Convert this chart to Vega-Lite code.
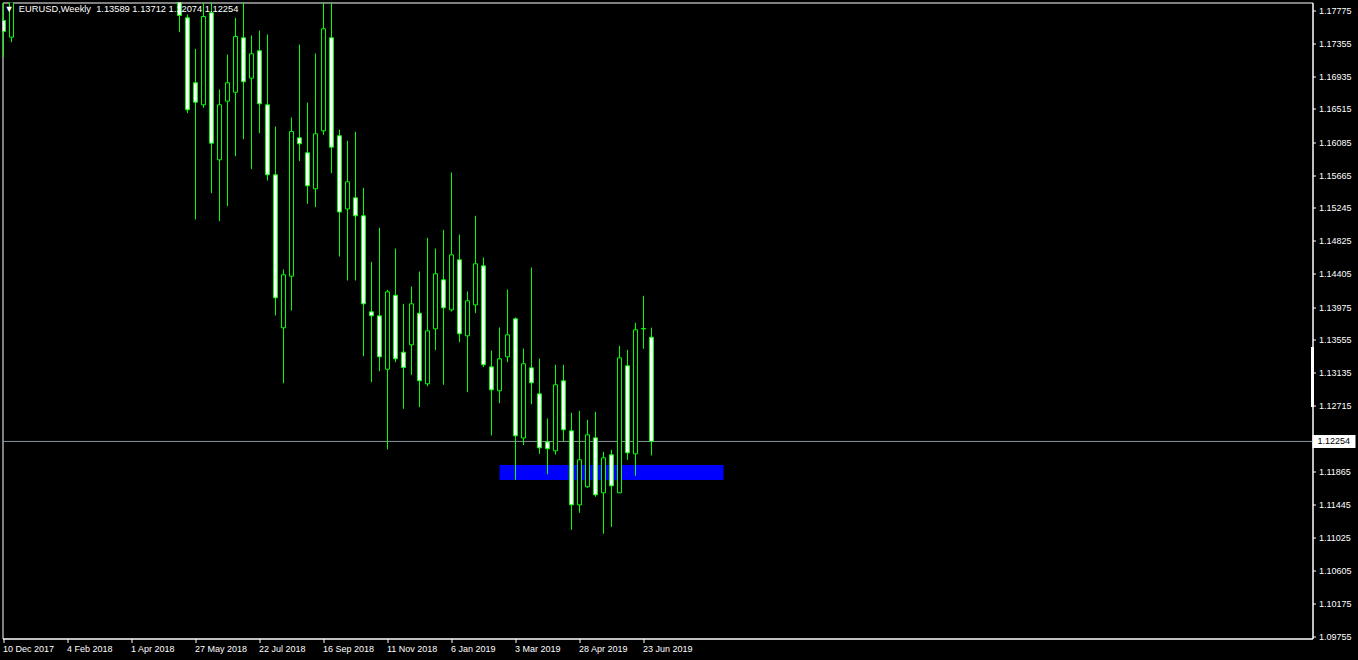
{
  "$schema": "https://vega.github.io/schema/vega-lite/v6.json",
  "width": 1310,
  "height": 636,
  "autosize": "none",
  "padding": {"left": 2.5, "top": 2.5, "right": 45.5, "bottom": 21.5},
  "background": "black",
  "title": {
    "text": "▼\u00a0\u00a0EURUSD,Weekly\u00a0\u00a01.13589 1.13712 1.12074 1.12254",
    "anchor": "start",
    "frame": "group",
    "orient": "top",
    "offset": -12,
    "baseline": "top",
    "dx": 2,
    "color": "white",
    "font": "Liberation Sans",
    "fontSize": 9.3,
    "fontWeight": "normal"
  },
  "datasets": {
    "candles": [
      {"date": "2017-12-10", "open": 1.17647, "high": 1.18630, "low": 1.17177, "close": 1.17506},
      {"date": "2017-12-17", "open": 1.17433, "high": 1.18800, "low": 1.17369, "close": 1.18600},
      {"date": "2018-05-13", "open": 1.19400, "high": 1.19970, "low": 1.17497, "close": 1.17711},
      {"date": "2018-05-20", "open": 1.17681, "high": 1.17724, "low": 1.16459, "close": 1.16503},
      {"date": "2018-05-27", "open": 1.16849, "high": 1.17284, "low": 1.15097, "close": 1.16600},
      {"date": "2018-06-03", "open": 1.16567, "high": 1.18400, "low": 1.16528, "close": 1.17698},
      {"date": "2018-06-10", "open": 1.17746, "high": 1.18520, "low": 1.15434, "close": 1.16075},
      {"date": "2018-06-17", "open": 1.15862, "high": 1.16763, "low": 1.15076, "close": 1.16567},
      {"date": "2018-06-24", "open": 1.16613, "high": 1.17211, "low": 1.15268, "close": 1.16849},
      {"date": "2018-07-01", "open": 1.16728, "high": 1.17681, "low": 1.15908, "close": 1.17442},
      {"date": "2018-07-08", "open": 1.17425, "high": 1.17910, "low": 1.16126, "close": 1.16862},
      {"date": "2018-07-15", "open": 1.16908, "high": 1.17455, "low": 1.15742, "close": 1.17220},
      {"date": "2018-07-22", "open": 1.17259, "high": 1.17519, "low": 1.16203, "close": 1.16580},
      {"date": "2018-07-29", "open": 1.16567, "high": 1.17468, "low": 1.15597, "close": 1.15670},
      {"date": "2018-08-05", "open": 1.15670, "high": 1.16289, "low": 1.13867, "close": 1.14094},
      {"date": "2018-08-12", "open": 1.13710, "high": 1.14457, "low": 1.12999, "close": 1.14389},
      {"date": "2018-08-19", "open": 1.14371, "high": 1.16404, "low": 1.13931, "close": 1.16225},
      {"date": "2018-08-26", "open": 1.16144, "high": 1.17339, "low": 1.15844, "close": 1.16067},
      {"date": "2018-09-02", "open": 1.15952, "high": 1.16596, "low": 1.15298, "close": 1.15529},
      {"date": "2018-09-09", "open": 1.15491, "high": 1.17224, "low": 1.15255, "close": 1.16195},
      {"date": "2018-09-16", "open": 1.16234, "high": 1.17900, "low": 1.16183, "close": 1.17541},
      {"date": "2018-09-23", "open": 1.17425, "high": 1.18150, "low": 1.15691, "close": 1.16024},
      {"date": "2018-09-30", "open": 1.16170, "high": 1.16247, "low": 1.14623, "close": 1.15193},
      {"date": "2018-10-07", "open": 1.15232, "high": 1.16106, "low": 1.14316, "close": 1.15580},
      {"date": "2018-10-14", "open": 1.15375, "high": 1.16221, "low": 1.14316, "close": 1.15145},
      {"date": "2018-10-21", "open": 1.15145, "high": 1.15503, "low": 1.13346, "close": 1.14017},
      {"date": "2018-10-28", "open": 1.13915, "high": 1.14555, "low": 1.13013, "close": 1.13864},
      {"date": "2018-11-04", "open": 1.13864, "high": 1.14991, "low": 1.13154, "close": 1.13338},
      {"date": "2018-11-11", "open": 1.13179, "high": 1.14197, "low": 1.12151, "close": 1.14171},
      {"date": "2018-11-18", "open": 1.14127, "high": 1.14726, "low": 1.13269, "close": 1.13313},
      {"date": "2018-11-25", "open": 1.13397, "high": 1.14017, "low": 1.12672, "close": 1.13201},
      {"date": "2018-12-02", "open": 1.13492, "high": 1.14239, "low": 1.13108, "close": 1.14017},
      {"date": "2018-12-09", "open": 1.13897, "high": 1.14431, "low": 1.12693, "close": 1.13031},
      {"date": "2018-12-16", "open": 1.12992, "high": 1.14863, "low": 1.12962, "close": 1.13671},
      {"date": "2018-12-23", "open": 1.13697, "high": 1.14726, "low": 1.13423, "close": 1.14402},
      {"date": "2018-12-30", "open": 1.14325, "high": 1.14965, "low": 1.12980, "close": 1.13966},
      {"date": "2019-01-06", "open": 1.13940, "high": 1.15700, "low": 1.13919, "close": 1.14645},
      {"date": "2019-01-13", "open": 1.14581, "high": 1.14905, "low": 1.13525, "close": 1.13633},
      {"date": "2019-01-20", "open": 1.13607, "high": 1.14175, "low": 1.12885, "close": 1.14056},
      {"date": "2019-01-27", "open": 1.14004, "high": 1.15145, "low": 1.13897, "close": 1.14530},
      {"date": "2019-02-03", "open": 1.14504, "high": 1.14610, "low": 1.13205, "close": 1.13236},
      {"date": "2019-02-10", "open": 1.13210, "high": 1.13419, "low": 1.12330, "close": 1.12915},
      {"date": "2019-02-17", "open": 1.12903, "high": 1.13714, "low": 1.12744, "close": 1.13313},
      {"date": "2019-02-24", "open": 1.13338, "high": 1.14201, "low": 1.13269, "close": 1.13620},
      {"date": "2019-03-03", "open": 1.13825, "high": 1.13842, "low": 1.11762, "close": 1.12326},
      {"date": "2019-03-10", "open": 1.12298, "high": 1.13445, "low": 1.12208, "close": 1.13249},
      {"date": "2019-03-17", "open": 1.13197, "high": 1.14482, "low": 1.12731, "close": 1.13005},
      {"date": "2019-03-24", "open": 1.12864, "high": 1.13316, "low": 1.12095, "close": 1.12172},
      {"date": "2019-03-31", "open": 1.12249, "high": 1.12548, "low": 1.11834, "close": 1.12160},
      {"date": "2019-04-07", "open": 1.12134, "high": 1.13236, "low": 1.12086, "close": 1.12980},
      {"date": "2019-04-14", "open": 1.13031, "high": 1.13236, "low": 1.12249, "close": 1.12403},
      {"date": "2019-04-21", "open": 1.12390, "high": 1.12621, "low": 1.11122, "close": 1.11442},
      {"date": "2019-04-28", "open": 1.11442, "high": 1.12646, "low": 1.11340, "close": 1.12019},
      {"date": "2019-05-05", "open": 1.11673, "high": 1.12531, "low": 1.11660, "close": 1.12339},
      {"date": "2019-05-12", "open": 1.12300, "high": 1.12634, "low": 1.11545, "close": 1.11570},
      {"date": "2019-05-19", "open": 1.11596, "high": 1.12121, "low": 1.11071, "close": 1.12044},
      {"date": "2019-05-26", "open": 1.12083, "high": 1.12147, "low": 1.11160, "close": 1.11685},
      {"date": "2019-06-02", "open": 1.11596, "high": 1.13479, "low": 1.11594, "close": 1.13325},
      {"date": "2019-06-09", "open": 1.13223, "high": 1.13428, "low": 1.12019, "close": 1.12108},
      {"date": "2019-06-16", "open": 1.12095, "high": 1.13774, "low": 1.11814, "close": 1.13684},
      {"date": "2019-06-23", "open": 1.13700, "high": 1.14120, "low": 1.13441, "close": 1.13696},
      {"date": "2019-06-30", "open": 1.13589, "high": 1.13712, "low": 1.12074, "close": 1.12254}
    ],
    "zone": [
      {"start": "2019-02-17", "end": "2019-09-01", "top": 1.11952, "bottom": 1.11760}
    ],
    "bid": [
      {"price": 1.12254}
    ],
    "marker": [
      {"top": 1.13464, "bottom": 1.12695}
    ]
  },
  "layer": [
    {
      "data": {"name": "zone"},
      "mark": {"type": "rect", "color": "#0000FF", "clip": true},
      "encoding": {
        "x": {"field": "start", "type": "temporal", "title": null,
              "scale": {"type": "utc", "domain": [1512788400000, 1611824400000], "padding": 0}},
        "x2": {"field": "end"},
        "y": {"field": "top", "type": "quantitative", "title": null,
              "scale": {"domain": [1.097294, 1.178775], "nice": false, "zero": false, "padding": 0}},
        "y2": {"field": "bottom"}
      }
    },
    {
      "data": {"name": "bid"},
      "mark": {"type": "rule", "color": "#8a939c", "strokeWidth": 1},
      "encoding": {
        "y": {"field": "price", "type": "quantitative", "title": null,
              "scale": {"domain": [1.097294, 1.178775], "nice": false, "zero": false, "padding": 0}}
      }
    },
    {
      "data": {"name": "candles"},
      "mark": {"type": "rule", "color": "#00FF00", "strokeWidth": 1, "clip": true},
      "encoding": {
        "x": {"field": "date", "type": "temporal", "title": null,
              "scale": {"type": "utc", "domain": [1512788400000, 1611824400000], "padding": 0}},
        "y": {"field": "high", "type": "quantitative", "title": null,
              "scale": {"domain": [1.097294, 1.178775], "nice": false, "zero": false, "padding": 0}},
        "y2": {"field": "low"}
      }
    },
    {
      "data": {"name": "candles"},
      "mark": {"type": "bar", "size": 4, "stroke": "#00FF00", "strokeWidth": 1, "clip": true},
      "encoding": {
        "x": {"field": "date", "type": "temporal", "title": null,
              "scale": {"type": "utc", "domain": [1512788400000, 1611824400000], "padding": 0},
              "axis": {
                "orient": "bottom",
                "values": [1512864000000, 1517702400000, 1522540800000, 1527379200000, 1532217600000, 1537056000000, 1541894400000, 1546732800000, 1551571200000, 1556409600000, 1561248000000],
                "tickCount": 40,
                "format": "%-d %b %Y",
                "labelAlign": "left",
                "labelBaseline": "top",
                "labelOffset": -1,
                "labelPadding": 2,
                "tickSize": 4,
                "labelOverlap": false,
                "labelFlush": false,
                "labelBound": false,
                "labelSeparation": 0
              }},
        "y": {"field": "open", "type": "quantitative", "title": null,
              "scale": {"domain": [1.097294, 1.178775], "nice": false, "zero": false, "padding": 0},
              "axis": {
                "orient": "right",
                "values": [1.17775, 1.17355, 1.16935, 1.16515, 1.16085, 1.15665, 1.15245, 1.14825, 1.14405, 1.13975, 1.13555, 1.13135, 1.12715, 1.12295, 1.11865, 1.11445, 1.11025, 1.10605, 1.10175, 1.09755],
                "tickCount": 30,
                "format": ".5f",
                "tickSize": 3,
                "labelPadding": 3,
                "labelOverlap": false,
                "labelFlush": false,
                "labelBound": false,
                "labelSeparation": 0
              }},
        "y2": {"field": "close"},
        "fill": {
          "condition": {"test": "datum.close > datum.open", "value": "black"},
          "value": "white"
        }
      }
    },
    {
      "data": {"name": "marker"},
      "mark": {"type": "rule", "color": "white", "strokeWidth": 3},
      "encoding": {
        "x": {"value": "width"},
        "y": {"field": "top", "type": "quantitative", "title": null,
              "scale": {"domain": [1.097294, 1.178775], "nice": false, "zero": false, "padding": 0}},
        "y2": {"field": "bottom"}
      }
    },
    {
      "data": {"name": "bid"},
      "mark": {"type": "rect", "color": "white", "width": 43, "height": 13, "xOffset": 21.5},
      "encoding": {
        "x": {"value": "width"},
        "y": {"field": "price", "type": "quantitative", "title": null,
              "scale": {"domain": [1.097294, 1.178775], "nice": false, "zero": false, "padding": 0}}
      }
    },
    {
      "data": {"name": "bid"},
      "mark": {"type": "text", "color": "black", "align": "left", "baseline": "middle", "dx": 5, "font": "Liberation Sans", "fontSize": 9},
      "encoding": {
        "x": {"value": "width"},
        "y": {"field": "price", "type": "quantitative", "title": null,
              "scale": {"domain": [1.097294, 1.178775], "nice": false, "zero": false, "padding": 0}},
        "text": {"field": "price", "type": "quantitative", "format": ".5f"}
      }
    }
  ],
  "config": {
    "view": {"stroke": "white", "strokeWidth": 1, "fill": "black"},
    "axis": {
      "grid": false,
      "domainColor": "white",
      "tickColor": "white",
      "labelColor": "white",
      "labelFont": "Liberation Sans",
      "labelFontSize": 9,
      "labelOverlap": false,
      "labelFlush": false,
      "labelBound": false
    }
  }
}
